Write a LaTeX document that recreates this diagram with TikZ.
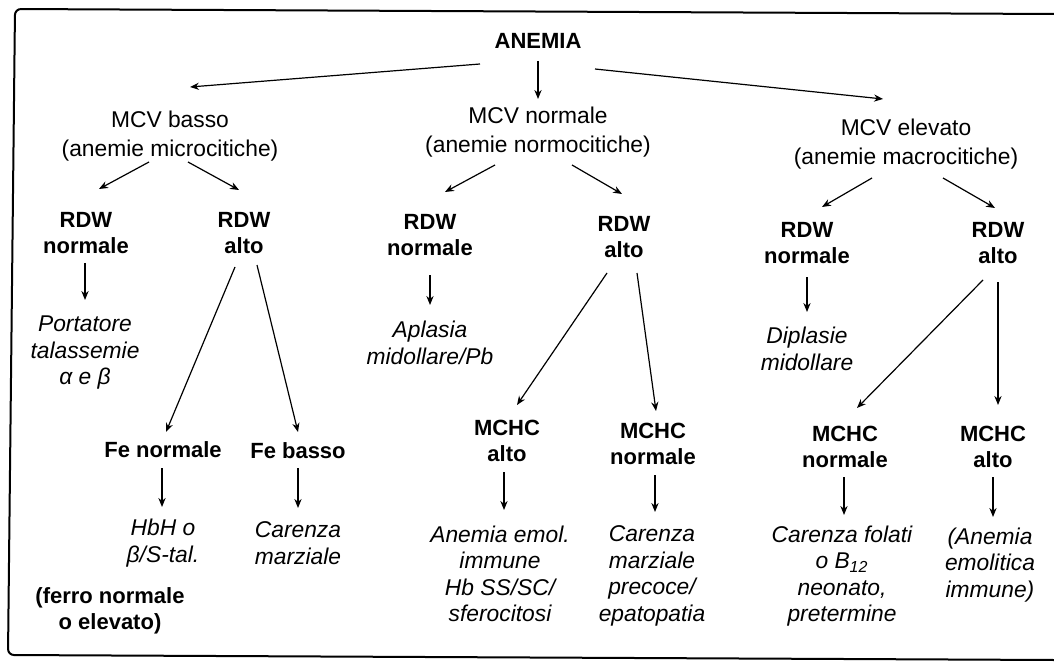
\documentclass[tikz,border=0pt]{standalone}
\usepackage{fontspec}
\setmainfont{Liberation Sans}
\usetikzlibrary{calc,arrows.meta}
\tikzset{
	voce/.style={align=center, inner sep=0pt, font=\fontsize{11}{13.25}\selectfont\bfseries},
	mcv/.style={align=center, inner sep=0pt, font=\fontsize{11.4}{14.8}\selectfont},
	esito/.style={align=center, inner sep=0pt, font=\fontsize{11.4}{13.25}\selectfont\itshape},
	freccia/.style={-{Stealth[length=4.5pt,width=3.6pt]}, line width=0.6pt},
}
\begin{document}
\begin{tikzpicture}[x=0.5pt, y=-0.5pt]
				\useasboundingbox (0,0) rectangle (1054,663);
				\draw[rounded corners=3pt, line width=1pt] (1054,14) -- (15,9) -- (8,655) -- (1054,660);

				\node (anemia) at (538,41) [voce] {ANEMIA};

				\node (basso) at (170,136) [mcv] {MCV basso\\(anemie microcitiche)};
				\node (normo) at (538,132) [mcv] {MCV normale\\(anemie normocitiche)};
				\node (elev) at (906,144) [mcv] {MCV elevato\\(anemie macrocitiche)};
				\draw[freccia] ($(anemia)+(-58,23)$) -- ($(basso)+(20,-49)$);
				\draw[freccia] ($(anemia)+(0,20)$) -- ($(normo)+(0,-33)$);
				\draw[freccia] ($(anemia)+(57,28)$) -- ($(elev)+(-23,-45)$);

				\node (rdwnL) at (86,233) [voce] {RDW\\normale};
				\node (rdwaL) at (244,233) [voce] {RDW\\alto};
				\node (rdwnM) at (430,235) [voce] {RDW\\normale};
				\node (rdwaM) at (624,237) [voce] {RDW\\alto};
				\node (rdwnR) at (807,243) [voce] {RDW\\normale};
				\node (rdwaR) at (998,243) [voce] {RDW\\alto};
				\draw[freccia] ($(basso)+(-21,26)$) -- ($(rdwnL)+(13,-44)$);
				\draw[freccia] ($(basso)+(18,26)$) -- ($(rdwaL)+(-5,-43)$);
				\draw[freccia] ($(normo)+(-43,33)$) -- ($(rdwnM)+(15,-43)$);
				\draw[freccia] ($(normo)+(34,33)$) -- ($(rdwaM)+(-2,-43)$);
				\draw[freccia] ($(elev)+(-34,34)$) -- ($(rdwnR)+(15,-36)$);
				\draw[freccia] ($(elev)+(37,34)$) -- ($(rdwaR)+(-3,-35)$);

				\node (portatore) at (85,353) [esito] {Portatore\\talassemie\\α e β};
				\node (fenorm) at (163,450) [voce] {Fe normale};
				\node (febasso) at (298,451) [voce] {Fe basso};
				\node (hbh) at (163,543) [esito] {HbH o\\β/S-tal.};
				\node (carenzaL) at (298,543) [esito] {Carenza\\marziale};
				\node (ferro) at (110,611) [voce] {(ferro normale\\o elevato)};
				\draw[freccia] ($(rdwnL)+(-1,30)$) -- ($(portatore)+(0,-53)$);
				\draw[freccia] ($(rdwaL)+(-9,34)$) -- ($(fenorm)+(3,-18)$);
				\draw[freccia] ($(rdwaL)+(13,32)$) -- ($(febasso)+(0,-19)$);
				\draw[freccia] ($(fenorm)+(-1,18)$) -- ($(hbh)+(-1,-36)$);
				\draw[freccia] ($(febasso)+(0,17)$) -- ($(carenzaL)+(0,-35)$);

				\node (aplasia) at (430,343) [esito] {Aplasia\\midollare/Pb};
				\node (mchcaM) at (507,441) [voce] {MCHC\\alto};
				\node (mchcnM) at (653,444) [voce] {MCHC\\normale};
				\node (anemol) at (500,574) [esito] {Anemia emol.\\immune\\Hb SS/SC/\\sferocitosi};
				\node (carenzaM) at (652,576) [esito] {Carenza\\marziale\\precoce/\\epatopatia};
				\draw[freccia] ($(rdwnM)+(0,40)$) -- ($(aplasia)+(0,-38)$);
				\draw[freccia] ($(rdwaM)+(-17,36)$) -- ($(mchcaM)+(10,-36)$);
				\draw[freccia] ($(rdwaM)+(13,36)$) -- ($(mchcnM)+(3,-33)$);
				\draw[freccia] ($(mchcaM)+(-3,31)$) -- ($(anemol)+(4,-64)$);
				\draw[freccia] ($(mchcnM)+(2,31)$) -- ($(carenzaM)+(3,-64)$);

				\node (diplasie) at (807,349) [esito] {Diplasie\\midollare};
				\node (mchcnR) at (845,447) [voce] {MCHC\\normale};
				\node (mchcaR) at (993,447) [voce] {MCHC\\alto};
				\node (folati) at (842,576) [esito] {Carenza folati\\o B\textsubscript{12}\\neonato,\\pretermine};
				\node (emolitica) at (990,565) [esito] {(Anemia\\emolitica\\immune)};
				\draw[freccia] ($(rdwnR)+(0,34)$) -- ($(diplasie)+(0,-37)$);
				\draw[freccia] ($(rdwaR)+(-15,37)$) -- ($(mchcnR)+(12,-39)$);
				\draw[freccia] ($(rdwaR)+(0,39)$) -- ($(mchcaR)+(5,-42)$);
				\draw[freccia] ($(mchcnR)+(-1,30)$) -- ($(folati)+(2,-61)$);
				\draw[freccia] ($(mchcaR)+(0,30)$) -- ($(emolitica)+(3,-48)$);
\end{tikzpicture}
\end{document}
